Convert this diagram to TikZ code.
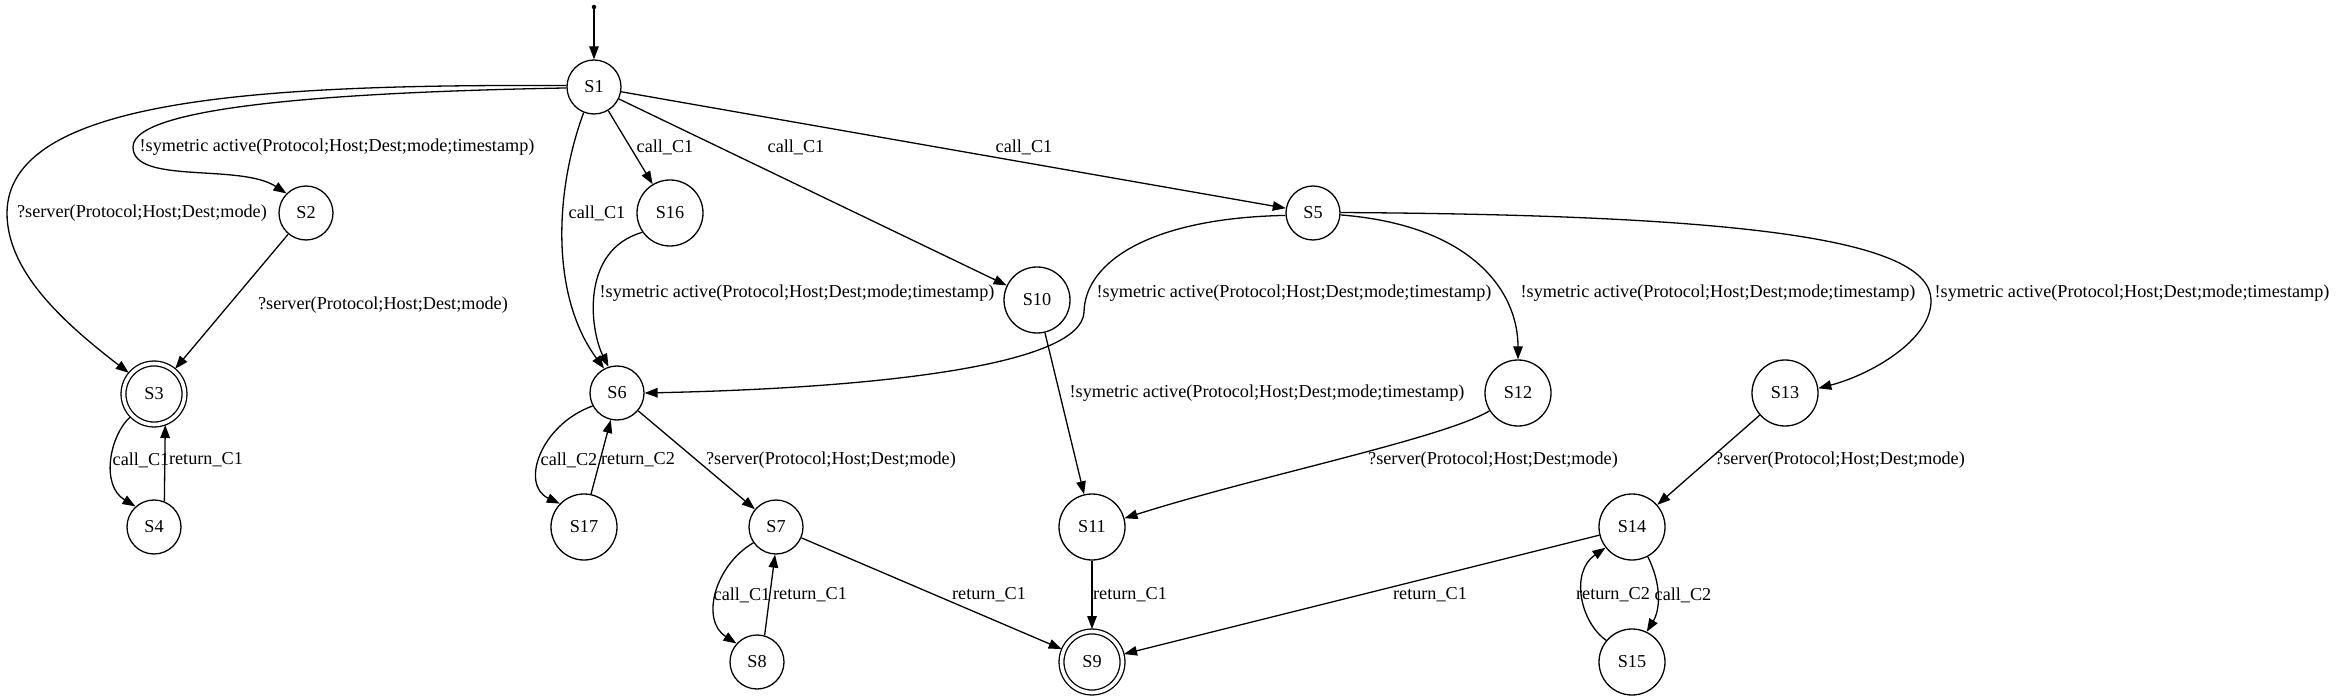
\documentclass[tikz,border=0pt]{standalone}
\usepackage{fontspec}
\setmainfont{Liberation Serif}
\usetikzlibrary{arrows.meta}
\newcommand{\fs}{\fontsize{18.2}{22}\selectfont}
\tikzset{
  st/.style={circle, draw, line width=1.3pt, minimum size=54pt, inner sep=0pt, font=\fs},
  stw/.style={st, minimum size=66pt},
  acc/.style={st, minimum size=61pt, double, double distance=3.6pt, outer sep=2.45pt},
  conn/.style={draw, line width=1.3pt, -{Triangle[length=13pt,width=9.5pt]}},
  lbl/.style={inner sep=0pt, font=\fs},
  startdot/.style={circle, fill, inner sep=0pt, minimum size=4.5pt}
}
\begin{document}
\begin{tikzpicture}[x=1pt,y=-1pt]
\useasboundingbox (0,0) rectangle (2337,700);
% states
\node[startdot] (init) at (594,7) {};
\node[st]  (S1)  at (594,87)   {S1};
\node[st]  (S2)  at (306,213)  {S2};
\node[stw] (S16) at (670,213)  {S16};
\node[st]  (S5)  at (1313,213) {S5};
\node[stw] (S10) at (1037,300) {S10};
\node[acc] (S3)  at (154,394)  {S3};
\node[st]  (S6)  at (617,393)  {S6};
\node[stw] (S12) at (1518,393) {S12};
\node[stw] (S13) at (1785,393) {S13};
\node[st]  (S4)  at (154,527)  {S4};
\node[stw] (S17) at (584,527)  {S17};
\node[st]  (S7)  at (776,527)  {S7};
\node[stw] (S11) at (1092,527) {S11};
\node[stw] (S14) at (1632,527) {S14};
\node[st]  (S8)  at (757,662)  {S8};
\node[acc] (S9)  at (1092,662) {S9};
\node[stw] (S15) at (1632,662) {S15};
% edges
\draw[conn] (init) -- (S1);
\draw[conn] (S1.182) .. controls (350,92) and (133,105) .. (133,147) .. controls (133,185) and (240,163) .. (S2.135);
\draw[conn] (S1.177) .. controls (250,84) and (8,100) .. (7,213) .. controls (7,270) and (60,320) .. (S3.140);
\draw[conn] (S1.248) .. controls (555,190) and (550,295) .. (S6.118);
\draw[conn] (S16.215) .. controls (580,250) and (590,330) .. (S6.108);
\draw[conn] (S1) -- (S16);
\draw[conn] (S1) -- (S10);
\draw[conn] (S1) -- (S5);
\draw[conn] (S5.185) .. controls (1150,218) and (1085,262) .. (1084,312) .. controls (1082,365) and (880,388) .. (S6.0);
\draw[conn] (S10) -- (S11);
\draw[conn] (S5.-4) .. controls (1470,225) and (1518,290) .. (S12.90);
\draw[conn] (S5.1) .. controls (1750,215) and (1930,240) .. (1931,300) .. controls (1932,340) and (1870,375) .. (S13.8);
\draw[conn] (S12.212) .. controls (1445,438) and (1250,478) .. (S11.15);
\draw[conn] (S13) -- (S14);
\draw[conn] (S14) -- (S9);
\draw[conn] (S14.-62) .. controls (1662,585) and (1660,610) .. (S15.64);
\draw[conn] (S15.140) .. controls (1580,622) and (1570,572) .. (S14.218);
\draw[conn] (S6.208) .. controls (540,425) and (520,485) .. (S17.136);
\draw[conn] (S17.78) -- (S6.257);
\draw[conn] (S6) -- (S7);
\draw[conn] (S7.215) .. controls (715,565) and (700,620) .. (S8.138);
\draw[conn] (S8.74) -- (S7.268);
\draw[conn] (S7) -- (S9);
\draw[conn] (S11) -- (S9);
\draw[conn] (S3.224) .. controls (110,435) and (100,485) .. (S4.132);
\draw[conn] (S4.68) -- (S3.290);
\draw[conn] (S2) -- (S3);
% labels
\node[lbl] (l12)   at (337,147)  {!symetric active(Protocol;Host;Dest;mode;timestamp)};
\node[lbl] (l13)   at (142,213)  {?server(Protocol;Host;Dest;mode)};
\node[lbl] (l23)   at (383,305)  {?server(Protocol;Host;Dest;mode)};
\node[lbl] (l16)   at (597,213)  {call\_C1};
\node[lbl] (l116)  at (665,147)  {call\_C1};
\node[lbl] (l110)  at (796,147)  {call\_C1};
\node[lbl] (l15)   at (1024,147) {call\_C1};
\node[lbl] (l166)  at (797,293)  {!symetric active(Protocol;Host;Dest;mode;timestamp)};
\node[lbl] (l56)   at (1294,293) {!symetric active(Protocol;Host;Dest;mode;timestamp)};
\node[lbl] (l512)  at (1718,293) {!symetric active(Protocol;Host;Dest;mode;timestamp)};
\node[lbl] (l513)  at (2132,293) {!symetric active(Protocol;Host;Dest;mode;timestamp)};
\node[lbl] (l1011) at (1267,393) {!symetric active(Protocol;Host;Dest;mode;timestamp)};
\node[lbl] (l617)  at (569,460)  {call\_C2};
\node[lbl] (l176)  at (638,460)  {return\_C2};
\node[lbl] (l67)   at (831,460)  {?server(Protocol;Host;Dest;mode)};
\node[lbl] (l78)   at (742,595)  {call\_C1};
\node[lbl] (l87)   at (810,595)  {return\_C1};
\node[lbl] (l79)   at (989,595)  {return\_C1};
\node[lbl] (l119)  at (1130,595) {return\_C1};
\node[lbl] (l34)   at (141,460)  {call\_C1};
\node[lbl] (l43)   at (206,460)  {return\_C1};
\node[lbl] (l1211) at (1493,460) {?server(Protocol;Host;Dest;mode)};
\node[lbl] (l1314) at (1840,460) {?server(Protocol;Host;Dest;mode)};
\node[lbl] (l149)  at (1430,595) {return\_C1};
\node[lbl] (l1514) at (1613,595) {return\_C2};
\node[lbl] (l1415) at (1683,595) {call\_C2};
\end{tikzpicture}
\end{document}
